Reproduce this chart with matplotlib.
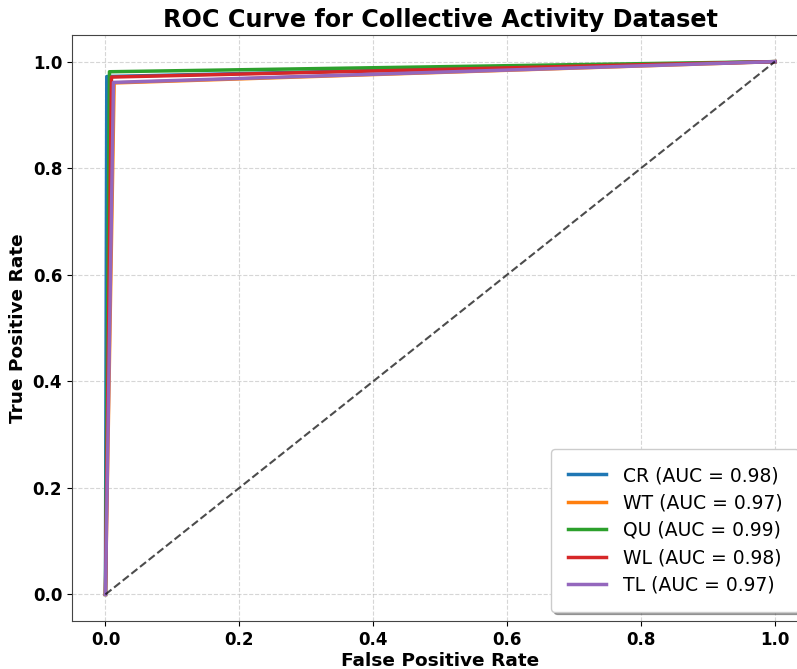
import matplotlib
matplotlib.use("Agg")
import matplotlib.pyplot as plt

# class names, single operating point (fpr, tpr) of each ROC curve, AUC
classes = ["CR", "WT", "QU", "WL", "TL"]
fpr_pt = [0.002, 0.013, 0.006, 0.009, 0.012]
tpr_pt = [0.972, 0.960, 0.981, 0.971, 0.961]
auc_vals = [0.98, 0.97, 0.99, 0.98, 0.97]
colors = ["#1f77b4", "#ff7f0e", "#2ca02c", "#d62728", "#9467bd"]

fig = plt.figure(figsize=(7.97, 6.69), dpi=100)
ax = fig.add_axes([0.0903, 0.0717, 0.924, 0.876])

for name, f, t, a, c in zip(classes, fpr_pt, tpr_pt, auc_vals, colors):
    ax.plot([0, f, 1], [0, t, 1], color=c, lw=2.5,
            label=f"{name} (AUC = {a:.2f})")

ax.plot([0, 1], [0, 1], "k--", lw=1.5, alpha=0.7)

ax.set_xlim(-0.05, 1.05)
ax.set_ylim(-0.05, 1.05)
ax.set_title("ROC Curve for Collective Activity Dataset", fontsize=17.2, fontweight="bold")
ax.set_xlabel("False Positive Rate", fontsize=13.3, fontweight="bold", labelpad=2)
ax.set_ylabel("True Positive Rate", fontsize=13.3, fontweight="bold")
ax.grid(True, linestyle="--", alpha=0.6, color="#bbbbbb")
for lab in ax.get_xticklabels() + ax.get_yticklabels():
    lab.set_fontweight("bold")
ax.tick_params(labelsize=12)
for s in ax.spines.values():
    s.set_color("#444444")

ax.legend(loc="lower right", fontsize=13.5, shadow=True, frameon=True,
          borderpad=0.9, labelspacing=0.45, handletextpad=0.9)

fig.savefig("out.png", dpi=100)
